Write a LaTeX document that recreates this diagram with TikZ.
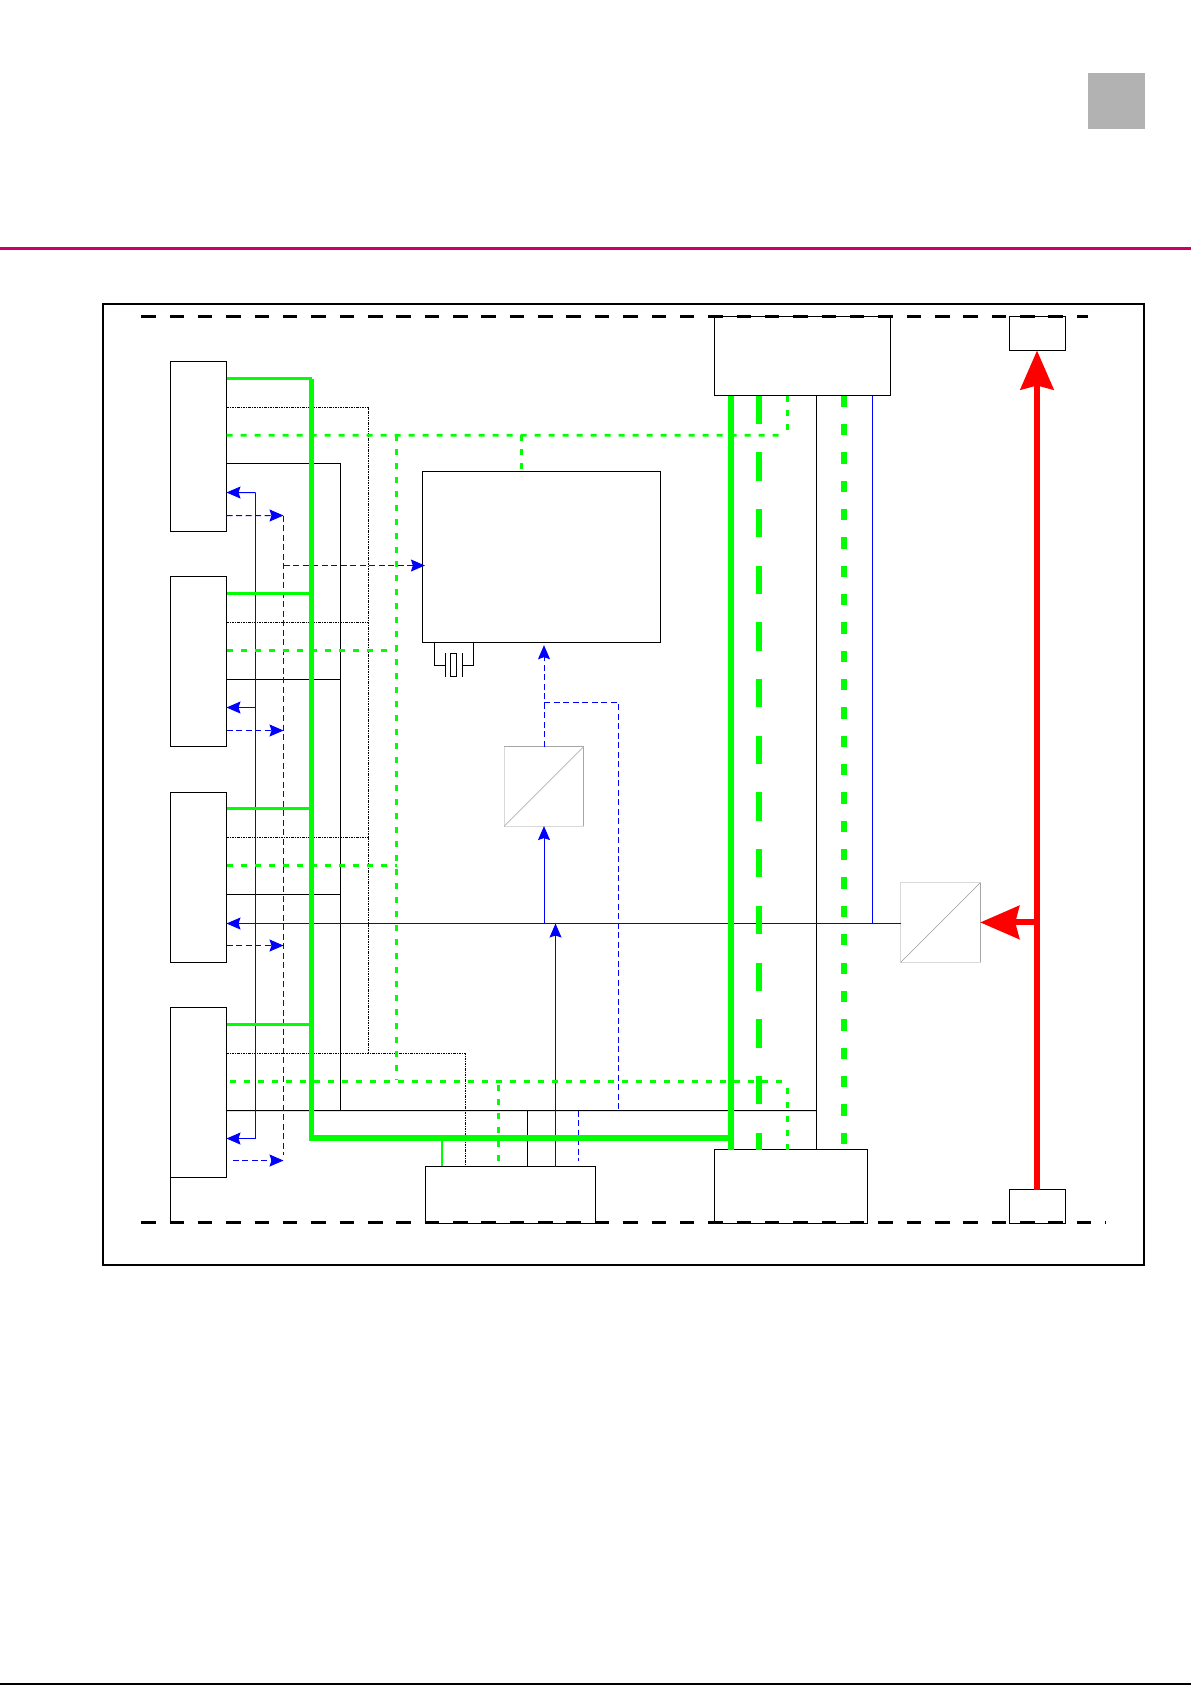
\documentclass[tikz,border=0pt]{standalone}
\usepackage{tikz}
\usetikzlibrary{arrows.meta, positioning}
\definecolor{busgreen}{HTML}{00FF00}
\definecolor{busblue}{HTML}{0000FF}
\definecolor{busred}{HTML}{FF0000}
\definecolor{rulepink}{HTML}{CC0066}
\definecolor{tabgray}{HTML}{B2B2B2}
\begin{document}
\begin{tikzpicture}[
        x=0.5bp, y=-0.5bp,
        node distance=22.5bp,
        bluetip/.style={-{Stealth[length=7bp, width=6bp, inset=1bp]}},
        redtip/.style={-{Stealth[length=19.5bp, width=16.5bp, inset=2bp]}},
        block/.style={draw, line width=0.5bp, inner sep=0pt, outer sep=0pt},
        chanbox/.style={block, minimum width=28bp, minimum height=85bp},
        convbox/.style={draw=black!15, line width=0.5bp, inner sep=0pt, outer sep=0pt, minimum width=39.7bp, minimum height=39.7bp},
        thinwire/.style={line width=0.5bp},
        dotwire/.style={line width=0.4bp, dash pattern=on 1.2bp off 0.5bp on 0.5bp off 0.5bp},
        bluewire/.style={line width=0.5bp, color=busblue},
        bluedash/.style={line width=0.5bp, color=busblue, dash pattern=on 3bp off 1.75bp},
        greenstub/.style={line width=1.5bp, color=busgreen},
        greenrail/.style={line width=2.25bp, color=busgreen},
        greenbus/.style={line width=3bp, color=busgreen},
        greendash/.style={line width=1.45bp, color=busgreen, dash pattern=on 3bp off 4bp},
        greenlong/.style={line width=3bp, color=busgreen, dash pattern=on 14.15bp off 14.2bp},
        greenshort/.style={line width=3bp, color=busgreen, dash pattern=on 5.65bp off 8.525bp},
        boundary/.style={line width=1.5bp, dash pattern=on 7.25bp off 6.925bp},
      ]
        \useasboundingbox (0,0) rectangle (1191,1685);
        \begin{scope}[xshift=0.1bp, yshift=-0.1bp]

        % page furniture
        \node[fill=tabgray, inner sep=0pt, minimum width=28.5bp, minimum height=28bp] (tab) at (1116.5,101) {};
        \coordinate (ruleL) at (0,248);
        \coordinate (ruleR) at (1191,248);
        \draw[line width=1.5bp, color=rulepink] (ruleL) -- (ruleR);
        \coordinate (footL) at (0,1684);
        \coordinate (footR) at (1191,1684);
        \draw[line width=1bp] (footL) -- (footR);
        \node[draw, line width=1bp, inner sep=0pt, minimum width=520.5bp, minimum height=480.5bp] (frame) at (623.5,784.5) {};

        % blocks
        \node[chanbox] (ch1) at (198.3,446.3) {};
        \node[chanbox, below=of ch1] (ch2) {};
        \node[chanbox, below=of ch2, yshift=-0.5bp] (ch3) {};
        \node[chanbox, below=of ch3] (ch4) {};
        \node[block, minimum width=118.85bp, minimum height=85.5bp] (core) at (541.15,556.8) {};
        \node[block, minimum width=88bp, minimum height=39.5bp] (upper) at (802.3,355.8) {};
        \node[block, minimum width=76.7bp, minimum height=37bp] (lower) at (791,1186.3) {};
        \node[block, minimum width=85bp, minimum height=28.35bp] (ctrl) at (510.35,1194.6) {};
        \node[block, minimum width=28.2bp, minimum height=17bp] (portT) at (1037.5,333.3) {};
        \node[block, minimum width=28.2bp, minimum height=17bp] (portB) at (1037.5,1206.3) {};
        \node[convbox] (conv1) at (543.8,786.2) {};
        \node[convbox] (conv2) at (940.3,922.2) {};
        \draw[color=black!35, line width=0.5bp] (conv1.north west) -- (conv1.north east) -- (conv1.south east);
        \draw[color=black!35, line width=0.5bp] (conv2.north east) -- (conv2.south east);
        \draw[color=black!30, line width=0.4bp] (conv1.south west) -- (conv1.north east);
        \draw[color=black!40, line width=0.3bp] (conv2.south west) -- (conv2.north east);

        % crystal
        \node[block, minimum width=3bp, minimum height=11.7bp] (xtal) at (453.3,665) {};
        \coordinate (xtalA) at (434,642.3);
        \coordinate (xtalB) at (473.7,642.3);
        \coordinate (plateA) at (445,665);
        \coordinate (plateB) at (462.7,665);
        \coordinate (plateAt) at (445,652.7);
        \coordinate (plateAb) at (445,676.5);
        \coordinate (plateBt) at (462.7,652.7);
        \coordinate (plateBb) at (462.7,676.5);
        \draw[thinwire] (xtalA) |- (plateA);
        \draw[thinwire] (xtalB) |- (plateB);
        \draw[thinwire] (plateAt) -- (plateAb);
        \draw[thinwire] (plateBt) -- (plateBb);

        % ports on the channel blocks
        \coordinate (g1) at ([yshift=-8.5bp]ch1.north east);
        \coordinate (g2) at ([yshift=-8.7bp]ch2.north east);
        \coordinate (g3) at ([yshift=-8bp]ch3.north east);
        \coordinate (g4) at ([yshift=-8.5bp]ch4.north east);
        \coordinate (d1) at ([yshift=-23bp]ch1.north east);
        \coordinate (d2) at ([yshift=-23bp]ch2.north east);
        \coordinate (d3) at ([yshift=-22.5bp]ch3.north east);
        \coordinate (d4) at ([yshift=-23bp]ch4.north east);
        \coordinate (s1) at ([yshift=-36.85bp]ch1.north east);
        \coordinate (s2) at ([yshift=-37bp]ch2.north east);
        \coordinate (s3) at ([yshift=-36.5bp]ch3.north east);
        \coordinate (s4) at ([yshift=-37bp, xshift=1.5bp]ch4.north east);
        \coordinate (k1) at ([yshift=-51bp]ch1.north east);
        \coordinate (k2) at ([yshift=-51.5bp]ch2.north east);
        \coordinate (k3) at ([yshift=-51bp]ch3.north east);
        \coordinate (k4) at ([yshift=-51.5bp]ch4.north east);
        \coordinate (r1) at ([yshift=-65.5bp]ch1.north east);
        \coordinate (r2) at ([yshift=-65.5bp]ch2.north east);
        \coordinate (r4) at ([yshift=-65.5bp]ch4.north east);
        \coordinate (t1) at ([yshift=-77bp]ch1.north east);
        \coordinate (t2) at ([yshift=-77bp]ch2.north east);
        \coordinate (t3) at ([yshift=-76.5bp]ch3.north east);
        \coordinate (t4) at ([yshift=-76.5bp, xshift=3bp]ch4.north east);

        % black wires
        \coordinate (kRail) at (340.3,1110.3);
        \coordinate (kEnd) at (816.7,1110.3);
        \coordinate (kTap) at (527.3,1110.3);
        \draw[thinwire] (k1) -| (kRail);
        \draw[thinwire] (k2) -- (k2 -| kRail);
        \draw[thinwire] (k3) -- (k3 -| kRail);
        \draw[thinwire] (k4) -- (kEnd);
        \draw[thinwire] (kEnd |- upper.south) -- (kEnd |- lower.north);
        \draw[thinwire] (kTap) -- (kTap |- ctrl.north);
        \coordinate (chFoot) at (ch4.south west);
        \coordinate (chBase) at (chFoot |- 0,1222.3);
        \draw[thinwire] (chFoot) -- (chBase);

        % dotted wires
        \coordinate (dRail) at (368.3,1053.3);
        \coordinate (dDrop) at (465.3,1053.3);
        \draw[dotwire] (d1) -| (dRail);
        \draw[dotwire] (d2) -- (d2 -| dRail);
        \draw[dotwire] (d3) -- (d3 -| dRail);
        \draw[dotwire] (d4) -| (dDrop |- ctrl.north);

        % blue wires
        \coordinate (rRail) at (255.3,492.3);
        \coordinate (rFoot) at (r4 -| rRail);
        \draw[bluewire, bluetip] (rRail) -- (r1);
        \draw[bluewire] (rRail) -- (rFoot);
        \draw[bluewire, bluetip] (r2 -| rRail) -- (r2);
        \draw[bluewire, bluetip] (rFoot) -- (r4);
        \coordinate (vLine) at (901,923.3);
        \coordinate (vTap) at (872.3,923.3);
        \draw[bluewire, bluetip] (vLine) -- (vLine -| ch3.east);
        \draw[bluewire] (vTap |- upper.south) -- (vTap);
        \draw[bluewire, bluetip] (vLine -| conv1.south) -- (conv1.south);
        \coordinate (iTap) at (555.3,1166.3);
        \draw[bluewire, bluetip] (iTap) -- (iTap |- vLine);

        % blue dashed wires
        \coordinate (tRail) at (283.3,515.3);
        \coordinate (tFoot) at (283.3,1155);
        \coordinate (tCore) at (424.7,565.3);
        \draw[bluedash, bluetip] (t1) -- (tRail);
        \draw[bluedash, bluetip] (t2) -- (t2 -| tRail);
        \draw[bluedash, bluetip] (t3) -- (t3 -| tRail);
        \draw[bluedash, bluetip] (t4) -- (t4 -| tRail);
        \draw[bluedash] (tRail) -- (tFoot);
        \draw[bluedash, bluetip] (tRail |- tCore) -- (tCore);
        \coordinate (adcTip) at (543.8,645);
        \coordinate (adcTap) at (543.8,702.3);
        \coordinate (adcRail) at (618.3,702.3);
        \coordinate (adcFoot) at (618.3,1110.3);
        \coordinate (ctlStub) at (578.3,1110.3);
        \coordinate (ctlEnd) at (578.3,1161);
        \draw[bluedash, bluetip] (conv1.north) -- (adcTip);
        \draw[bluedash] (adcTap) -- (adcRail) -- (adcFoot);
        \draw[bluedash] (ctlStub) -- (ctlEnd);

        % green buses
        \coordinate (gCorner) at (311.3,1137.7);
        \coordinate (gEnd) at (731,1137.7);
        \coordinate (gTap) at (441.7,1137.7);
        \draw[greenstub] (g1) -- (g1 -| gCorner);
        \draw[greenstub] (g2) -- (g2 -| gCorner);
        \draw[greenstub] (g3) -- (g3 -| gCorner);
        \draw[greenstub] (g4) -- (g4 -| gCorner);
        \draw[greenrail] (g1 -| gCorner) -- (gCorner);
        \draw[greenbus] ([xshift=-1.125bp]gCorner) -- (gEnd);
        \draw[greenstub, line width=1.4bp] (gTap) -- (gTap |- ctrl.north);
        \draw[greenbus] (gEnd |- upper.south) -- (gEnd |- lower.north);
        \coordinate (longX) at (759,395.3);
        \coordinate (shortX) at (844,395.3);
        \draw[greenlong] (longX) -- (longX |- lower.north);
        \draw[greenshort] (shortX) -- (shortX |- lower.north);

        % green dashed wires
        \coordinate (sRail) at (396.3,435);
        \coordinate (sFoot) at (396.3,1080);
        \coordinate (sUp) at (787.3,435);
        \coordinate (sDown) at (787.3,1081.3);
        \coordinate (sDownB) at (787.3,1087.3);
        \coordinate (sCore) at (521.3,435);
        \coordinate (sCtl) at (498.3,1081.3);
        \coordinate (sCtlB) at (498.3,1084.3);
        \draw[greendash] (s1) -- (sUp -| sRail) -- ([xshift=-1bp]sUp);
        \draw[greendash] (upper.south -| sUp) -- ([yshift=-1bp]sUp);
        \draw[greendash] (sRail) -- (sFoot);
        \draw[greendash] (s2) -- (s2 -| sRail);
        \draw[greendash] (s3) -- (s3 -| sRail);
        \draw[greendash] (s4) -- (s4 -| sDown);
        \draw[greendash] (sDownB) -- (sDownB |- lower.north);
        \draw[greendash] (sCore) -- (sCore |- core.north);
        \draw[greendash] (sCtlB) -- (sCtlB |- ctrl.north);

        % red bus
        \coordinate (redT) at ([xshift=-0.35bp]portT.south);
        \coordinate (redB) at ([xshift=-0.35bp]portB.north);
        \draw[line width=3bp, color=busred, redtip] (redB) -- (redT);
        \draw[line width=3bp, color=busred, redtip] (conv2.east -| redT) -- (conv2.east);

        % boundary lines
        \coordinate (topL) at (141,316.3);
        \coordinate (topR) at (1088,316.3);
        \coordinate (botL) at (141,1222.3);
        \coordinate (botR) at (1106,1222.3);
        \draw[boundary] (topL) -- (topR);
        \draw[boundary] (botL) -- (botR);
        \end{scope}
      \end{tikzpicture}
\end{document}
